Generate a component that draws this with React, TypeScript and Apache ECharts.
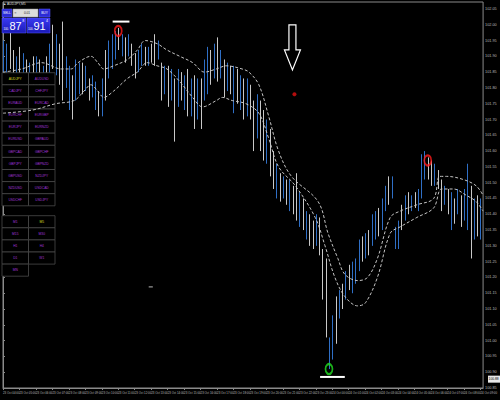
import React, { useEffect, useRef } from "react";
import * as echarts from "echarts";

const symbolTitle = "AUDJPY,M5";
const timeLabels = [
  "23 Oct 04:00", "23 Oct 05:00", "23 Oct 06:00", "23 Oct 07:00", "23 Oct 08:00",
  "23 Oct 09:00", "23 Oct 10:00", "23 Oct 11:00", "23 Oct 12:00", "23 Oct 13:00",
  "23 Oct 14:00", "23 Oct 15:00", "23 Oct 16:00", "23 Oct 17:00", "23 Oct 18:00",
  "23 Oct 19:00", "23 Oct 20:00", "23 Oct 21:00", "23 Oct 22:00", "23 Oct 23:00",
  "24 Oct 00:00", "24 Oct 01:00", "24 Oct 02:00", "24 Oct 03:00", "24 Oct 04:00",
  "24 Oct 05:00", "24 Oct 06:00", "24 Oct 07:00", "24 Oct 08:00", "24 Oct 09:00",
];

// hours per bar (bar i sits at i * barStep on the time axis)
const barStep = 0.2;

const barHigh = [
  101.95, 101.94, 101.98, 101.92, 101.90, 101.93, 101.91, 101.89, 101.88, 101.90,
  101.90, 101.89, 101.87, 101.90, 101.94, 102.00, 101.97, 101.94, 102.01, 101.90,
  101.87, 101.84, 101.89, 101.88, 101.88, 101.87, 101.83, 101.84, 101.82, 101.79,
  101.83, 101.92, 101.95, 101.97, 101.98, 101.99, 101.97, 101.96, 101.97, 101.94,
  101.91, 101.92, 101.94, 101.93, 101.93, 101.94, 101.97, 101.95, 101.88, 101.87,
  101.87, 101.86, 101.83, 101.86, 101.85, 101.84, 101.86, 101.83, 101.84, 101.83,
  101.83, 101.89, 101.93, 101.92, 101.94, 101.96, 101.92, 101.89, 101.88, 101.87,
  101.87, 101.86, 101.84, 101.83, 101.83, 101.81, 101.76, 101.78, 101.76, 101.73,
  101.70, 101.67, 101.60, 101.56, 101.53, 101.52, 101.51, 101.51, 101.49, 101.53,
  101.47, 101.45, 101.41, 101.40, 101.38, 101.40, 101.39, 101.29, 101.26, 101.01,
  101.08, 101.14, 101.16, 101.18, 101.22, 101.24, 101.25, 101.26, 101.32, 101.33,
  101.34, 101.35, 101.40, 101.41, 101.42, 101.45, 101.49, 101.52, 101.52, 101.36,
  101.38, 101.43, 101.46, 101.47, 101.46, 101.47, 101.48, 101.59, 101.60, 101.58,
  101.57, 101.56, 101.54, 101.51, 101.49, 101.48, 101.47, 101.45, 101.48, 101.46,
  101.48, 101.56, 101.49, 101.45, 101.46, 101.45,
];
const barLow = [
  101.84, 101.79, 101.86, 101.81, 101.78, 101.83, 101.83, 101.79, 101.78, 101.80,
  101.81, 101.76, 101.75, 101.78, 101.83, 101.86, 101.84, 101.81, 101.76, 101.80,
  101.73, 101.70, 101.76, 101.78, 101.78, 101.79, 101.76, 101.77, 101.73, 101.71,
  101.71, 101.76, 101.83, 101.86, 101.89, 101.92, 101.90, 101.88, 101.90, 101.87,
  101.83, 101.85, 101.87, 101.87, 101.87, 101.88, 101.87, 101.89, 101.76, 101.78,
  101.74, 101.76, 101.63, 101.74, 101.76, 101.73, 101.71, 101.71, 101.67, 101.70,
  101.67, 101.76, 101.78, 101.81, 101.83, 101.82, 101.83, 101.77, 101.79, 101.78,
  101.72, 101.75, 101.73, 101.70, 101.71, 101.70, 101.60, 101.64, 101.60, 101.57,
  101.56, 101.52, 101.48, 101.45, 101.44, 101.45, 101.43, 101.41, 101.40, 101.38,
  101.36, 101.35, 101.32, 101.30, 101.29, 101.30, 101.27, 101.13, 101.01, 100.91,
  100.94, 100.99, 101.07, 101.10, 101.13, 101.16, 101.15, 101.18, 101.22, 101.25,
  101.26, 101.27, 101.30, 101.32, 101.33, 101.35, 101.41, 101.43, 101.45, 101.29,
  101.29, 101.35, 101.38, 101.40, 101.41, 101.42, 101.41, 101.45, 101.51, 101.51,
  101.49, 101.49, 101.48, 101.41, 101.43, 101.40, 101.35, 101.37, 101.40, 101.36,
  101.38, 101.35, 101.26, 101.32, 101.33, 101.32,
];
// 1 = blue bar, 0 = white bar
const barUp = [
  1, 1, 0, 0, 1, 0, 1, 0, 1, 0,
  1, 0, 1, 0, 1, 0, 1, 0, 0, 1,
  1, 0, 1, 1, 0, 1, 0, 1, 1, 0,
  1, 0, 1, 1, 1, 0, 1, 0, 1, 0,
  0, 1, 1, 0, 1, 0, 0, 1, 0, 1,
  0, 1, 0, 1, 0, 1, 0, 1, 0, 1,
  0, 1, 1, 0, 1, 0, 1, 0, 1, 0,
  1, 0, 1, 0, 1, 0, 0, 1, 0, 0,
  1, 0, 0, 1, 0, 1, 0, 1, 0, 0,
  1, 0, 1, 0, 0, 1, 0, 0, 0, 1,
  1, 0, 1, 0, 1, 0, 1, 1, 1, 0,
  1, 0, 1, 1, 0, 1, 1, 0, 1, 1,
  1, 0, 1, 0, 1, 0, 1, 1, 1, 0,
  0, 1, 0, 0, 1, 0, 1, 0, 1, 0,
  1, 1, 0, 1, 0, 1,
];

const upperBand = [
  [0, 101.85], [1.14, 101.86], [2.34, 101.88], [3.54, 101.86], [4.14, 101.86],
  [4.56, 101.88], [5.34, 101.9], [5.76, 101.88], [6.12, 101.86], [6.72, 101.87],
  [7.56, 101.89], [8.16, 101.92], [8.64, 101.95], [9.36, 101.94], [9.96, 101.92],
  [10.74, 101.9], [11.52, 101.88], [12.24, 101.85], [12.96, 101.86], [13.56, 101.87],
  [14.52, 101.86], [14.94, 101.85], [15.54, 101.81], [16.14, 101.71], [16.74, 101.6],
  [17.52, 101.52], [19.14, 101.44], [19.74, 101.34], [20.34, 101.26], [20.76, 101.21],
  [21.54, 101.19], [22.14, 101.2], [22.74, 101.26], [23.52, 101.39], [24.12, 101.41],
  [25.14, 101.43], [26.16, 101.45], [26.52, 101.52], [26.94, 101.52], [27.96, 101.51],
  [28.74, 101.49], [29.16, 101.46],
];
const lowerBand = [
  [0, 101.72], [1.8, 101.73], [3.2, 101.75], [4.32, 101.76], [4.92, 101.79],
  [5.34, 101.81], [5.76, 101.79], [6.12, 101.77], [6.72, 101.79], [7.56, 101.83],
  [8.16, 101.85], [8.76, 101.88], [9.36, 101.87], [9.96, 101.86], [10.74, 101.82],
  [11.52, 101.77], [12.12, 101.74], [12.96, 101.76], [13.32, 101.77], [13.92, 101.76],
  [14.76, 101.75], [15.54, 101.72], [16.14, 101.64], [16.74, 101.55], [17.76, 101.49],
  [18.96, 101.39], [19.56, 101.3], [20.16, 101.2], [20.76, 101.14], [21.54, 101.11],
  [22.02, 101.12], [22.74, 101.2], [23.52, 101.34], [24.12, 101.36], [25.14, 101.39],
  [26.16, 101.42], [26.64, 101.48], [27.36, 101.48], [28.14, 101.46], [28.74, 101.44],
  [29.16, 101.41],
];

const highMarkBars = [35, 129];
const lowMarkBars = [99];
const topLevel = [[6.66, 102.01], [7.68, 102.01]];
const bottomLevel = [[19.26, 100.885], [20.76, 100.885]];
const redDot = [[17.7, 101.78]];
const arrowTip = [17.58, 101.857];
const dashMark = [[8.85, 101.17], [9.1, 101.17]];

const bidPrice = 100.878;
const bidBig = "87";
const bidSup = "8";
const askBig = "91";
const askSup = "4";
const pricePrefix = "100.";
const lotSize = "0.01";

const pairs = [
  "AUDJPY", "AUDUSD", "CADJPY", "CHFJPY", "EURAUD", "EURCAD", "EURCHF", "EURGBP",
  "EURJPY", "EURNZD", "EURUSD", "GBPAUD", "GBPCAD", "GBPCHF", "GBPJPY", "GBPNZD",
  "GBPUSD", "NZDJPY", "NZDUSD", "USDCAD", "USDCHF", "USDJPY",
];
const timeframes = ["M1", "M5", "M15", "M30", "H1", "H4", "D1", "W1", "MN"];
const currentPair = "AUDJPY";
const currentTf = "M5";

const BLUE = "#2f6fc6";
const WHITE = "#c8c8c8";
const AXIS = "#8a8a8a";
const NARROW = "'Liberation Sans Narrow', 'Liberation Sans', sans-serif";

export default function App() {
  const ref = useRef<HTMLDivElement>(null);

  useEffect(() => {
    const chart = echarts.init(ref.current as HTMLDivElement, null, { renderer: "svg" });
    const bars = barHigh.map((h, i) => [i * barStep, barLow[i], h, barUp[i]]);

    chart.setOption({
      animation: false,
      backgroundColor: "#000",
      grid: {
        left: 2, right: 12, top: 2, bottom: 12,
        show: true, borderColor: AXIS, borderWidth: 1, backgroundColor: "#000",
      },
      xAxis: {
        type: "value", min: 0, max: 29.16, interval: 1,
        axisLine: { show: true, lineStyle: { color: AXIS } },
        axisTick: { show: true, length: 2, lineStyle: { color: AXIS } },
        splitLine: { show: false },
        axisLabel: {
          formatter: (v: number) => timeLabels[Math.round(v)] ?? "",
          align: "left", fontSize: 2.9, color: "#b8b8b8", margin: 3,
          showMaxLabel: false, fontFamily: NARROW,
        },
      },
      yAxis: {
        type: "value", position: "right", min: 100.85, max: 102.072, interval: 0.05,
        axisLine: { show: true, lineStyle: { color: AXIS } },
        axisTick: { show: true, length: 2, lineStyle: { color: AXIS } },
        splitLine: { show: false },
        axisLabel: {
          formatter: (v: number) => v.toFixed(2),
          fontSize: 3.8, color: "#b8b8b8", margin: 2, showMaxLabel: false, fontFamily: NARROW,
        },
      },
      series: [
        {
          type: "custom", z: 2, data: bars, encode: { x: 0, y: [1, 2] },
          renderItem: (_p: any, api: any) => {
            const x = api.value(0);
            const a = api.coord([x, api.value(1)]);
            const b = api.coord([x, api.value(2)]);
            const px = Math.round(a[0]) + 0.5;
            return {
              type: "line",
              shape: { x1: px, y1: a[1], x2: px, y2: b[1] },
              style: { stroke: api.value(3) ? BLUE : WHITE, lineWidth: 1 },
            };
          },
        },
        {
          type: "line", z: 30, data: upperBand, showSymbol: false, smooth: 0.35,
          lineStyle: { color: "#c4c4c4", width: 1, type: [3, 2] },
        },
        {
          type: "line", z: 30, data: lowerBand, showSymbol: false, smooth: 0.35,
          lineStyle: { color: "#c4c4c4", width: 1, type: [3, 2] },
        },
        {
          type: "line", z: 30, data: topLevel, showSymbol: false,
          lineStyle: { color: "#ffffff", width: 2 },
        },
        {
          type: "line", z: 30, data: bottomLevel, showSymbol: false,
          lineStyle: { color: "#ffffff", width: 2 },
        },
        {
          type: "line", z: 30, data: dashMark, showSymbol: false,
          lineStyle: { color: "#bbbbbb", width: 1 },
        },
        {
          type: "scatter", z: 31,
          data: highMarkBars.map((i) => [i * barStep, barHigh[i]]),
          symbol: "circle", symbolSize: [7, 10], symbolOffset: [0, 3],
          itemStyle: { color: "rgba(0,0,0,0)", borderColor: "#ff1a1a", borderWidth: 2 },
        },
        {
          type: "scatter", z: 31,
          data: lowMarkBars.map((i) => [i * barStep, barLow[i]]),
          symbol: "circle", symbolSize: [7, 10], symbolOffset: [0, 0],
          itemStyle: { color: "rgba(0,0,0,0)", borderColor: "#22e022", borderWidth: 2 },
        },
        {
          type: "scatter", z: 31, data: redDot, symbol: "circle", symbolSize: 4,
          itemStyle: { color: "#e01010" },
        },
      ],
    });

    const els: any[] = [];
    const Z = 20;
    // symbol title
    els.push({ type: "text", z: Z, x: 3, y: 2.6, style: { text: "▲ " + symbolTitle, fill: "#dcdcdc", fontSize: 3.4, fontFamily: NARROW } });
    // one-click trading panel
    els.push({ type: "rect", z: Z, shape: { x: 2, y: 9, width: 10, height: 8 }, style: { fill: "#2b2bd6", stroke: "#5a5aff", lineWidth: 0.5 } });
    els.push({ type: "text", z: Z + 1, x: 7, y: 13, style: { text: "SELL", fill: "#ffffff", fontSize: 3.2, align: "center", verticalAlign: "middle", fontFamily: NARROW } });
    els.push({ type: "rect", z: Z, shape: { x: 13, y: 9, width: 25, height: 8 }, style: { fill: "#dcdcdc", stroke: "#9a9a9a", lineWidth: 0.5 } });
    els.push({ type: "text", z: Z + 1, x: 15.5, y: 13, style: { text: "≡", fill: "#666", fontSize: 3.4, align: "center", verticalAlign: "middle" } });
    els.push({ type: "text", z: Z + 1, x: 27, y: 13, style: { text: lotSize, fill: "#222", fontSize: 3.2, align: "center", verticalAlign: "middle", fontFamily: NARROW } });
    els.push({ type: "rect", z: Z, shape: { x: 39, y: 9, width: 11, height: 8 }, style: { fill: "#2b2bd6", stroke: "#5a5aff", lineWidth: 0.5 } });
    els.push({ type: "text", z: Z + 1, x: 44.5, y: 13, style: { text: "BUY", fill: "#ffffff", fontSize: 3.2, align: "center", verticalAlign: "middle", fontFamily: NARROW } });
    const priceGrad = new echarts.graphic.LinearGradient(0, 0, 0, 1, [
      { offset: 0, color: "#3a3af2" }, { offset: 1, color: "#1a1ab8" },
    ]);
    els.push({ type: "rect", z: Z, shape: { x: 2, y: 18, width: 24, height: 15 }, style: { fill: priceGrad, stroke: "#5a5aff", lineWidth: 0.5 } });
    els.push({ type: "rect", z: Z, shape: { x: 27, y: 18, width: 23, height: 15 }, style: { fill: priceGrad, stroke: "#5a5aff", lineWidth: 0.5 } });
    els.push({ type: "text", z: Z + 1, x: 3.5, y: 28.5, style: { text: pricePrefix, fill: "#fff", fontSize: 2.8, verticalAlign: "middle", fontFamily: NARROW } });
    els.push({ type: "text", z: Z + 1, x: 9.5, y: 26, style: { text: bidBig, fill: "#fff", fontSize: 11, verticalAlign: "middle", fontFamily: NARROW } });
    els.push({ type: "text", z: Z + 1, x: 22.2, y: 21, style: { text: bidSup, fill: "#fff", fontSize: 3.6, verticalAlign: "middle", fontFamily: NARROW } });
    els.push({ type: "text", z: Z + 1, x: 28, y: 28.5, style: { text: pricePrefix, fill: "#fff", fontSize: 2.8, verticalAlign: "middle", fontFamily: NARROW } });
    els.push({ type: "text", z: Z + 1, x: 33.5, y: 26, style: { text: askBig, fill: "#fff", fontSize: 11, verticalAlign: "middle", fontFamily: NARROW } });
    els.push({ type: "text", z: Z + 1, x: 46, y: 21, style: { text: askSup, fill: "#fff", fontSize: 3.6, verticalAlign: "middle", fontFamily: NARROW } });

    // symbol buttons
    const cellW = 26.5, cellH = 12.1;
    pairs.forEach((p, k) => {
      const r = Math.floor(k / 2), c = k % 2;
      const x = 2 + c * cellW, y = 72.7 + r * cellH;
      els.push({ type: "rect", z: Z, shape: { x, y, width: cellW, height: cellH }, style: { fill: "#000", stroke: "#4a4a4a", lineWidth: 0.8 } });
      els.push({ type: "text", z: Z + 1, x: x + cellW / 2, y: y + cellH / 2, style: { text: p, fill: p === currentPair ? "#d8d820" : "#a035d8", fontSize: 3.3, align: "center", verticalAlign: "middle", fontFamily: NARROW } });
    });
    // timeframe buttons
    timeframes.forEach((t, k) => {
      const r = Math.floor(k / 2), c = k % 2;
      const x = 2 + c * cellW, y = 215.7 + r * cellH;
      els.push({ type: "rect", z: Z, shape: { x, y, width: cellW, height: cellH }, style: { fill: "#000", stroke: "#4a4a4a", lineWidth: 0.8 } });
      els.push({ type: "text", z: Z + 1, x: x + cellW / 2, y: y + cellH / 2, style: { text: t, fill: t === currentTf ? "#d8d820" : "#a035d8", fontSize: 3.3, align: "center", verticalAlign: "middle", fontFamily: NARROW } });
    });

    // down arrow object
    const tip = chart.convertToPixel({ gridIndex: 0 }, arrowTip) as number[];
    if (tip) {
      const [ax, ay] = tip;
      els.push({
        type: "polygon", z: Z + 5,
        shape: { points: [[ax - 3.5, ay - 45], [ax + 3.5, ay - 45], [ax + 3.5, ay - 20], [ax + 8, ay - 20], [ax, ay], [ax - 8, ay - 20], [ax - 3.5, ay - 20]] },
        style: { fill: "rgba(0,0,0,0)", stroke: "#ffffff", lineWidth: 1.2 },
      });
    }
    // bid price box on the price axis
    const by = chart.convertToPixel({ yAxisIndex: 0 }, bidPrice) as number;
    els.push({ type: "rect", z: Z + 5, shape: { x: 488, y: by - 3.5, width: 12, height: 7 }, style: { fill: "#e8e8e8" } });
    els.push({ type: "text", z: Z + 6, x: 488.6, y: by, style: { text: bidPrice.toFixed(2), fill: "#000", fontSize: 3.3, verticalAlign: "middle", fontFamily: NARROW } });

    chart.setOption({ graphic: { elements: els } });
    return () => chart.dispose();
  }, []);

  return (
    <div
      ref={ref}
      style={{ position: "fixed", left: 0, top: 0, width: 500, height: 400, background: "#000" }}
    />
  );
}
